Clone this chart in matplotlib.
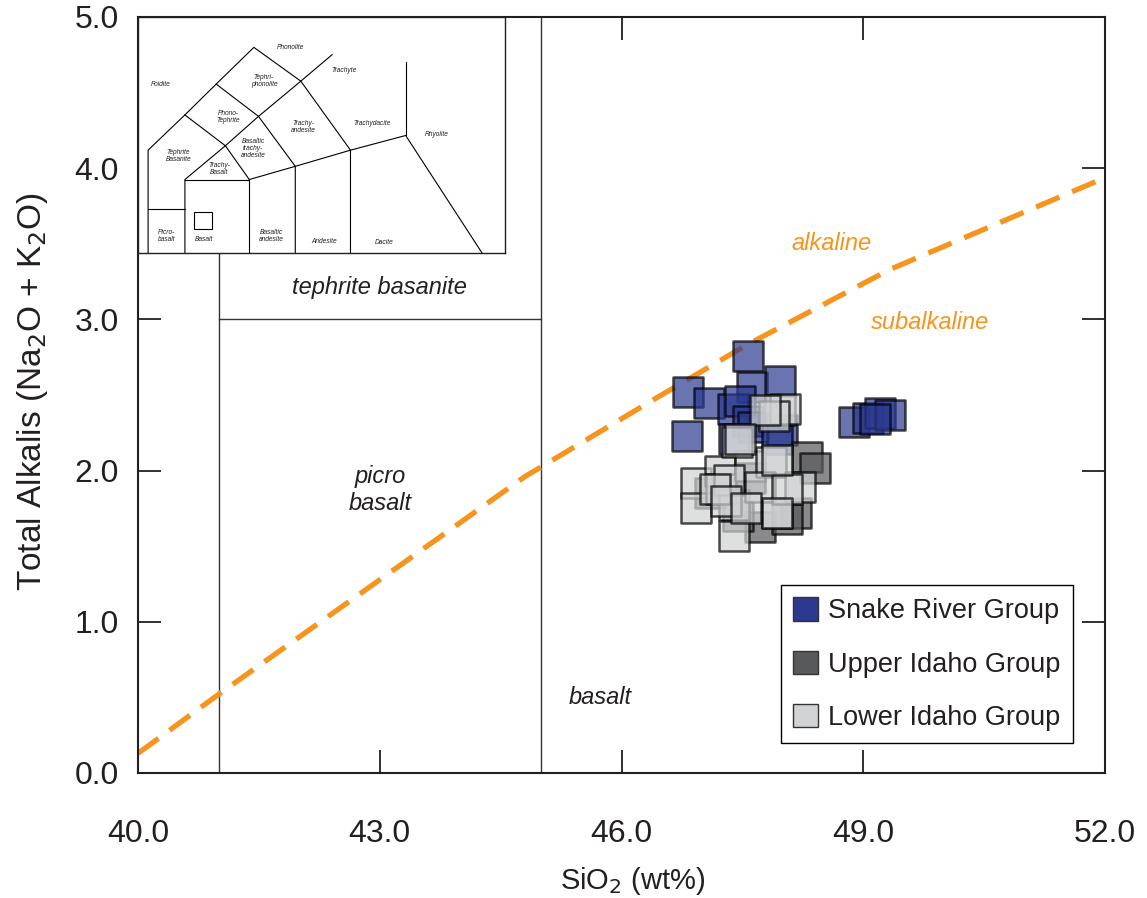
# TAS diagram (total alkali vs silica) with inset of the full classification

import matplotlib.pyplot as plt
from matplotlib.patches import Patch, Rectangle

plt.rcParams['font.family'] = ['Liberation Sans', 'DejaVu Sans']

# Sample compositions (SiO2 wt%, Na2O + K2O wt%)
snake_sio2 = [47.57, 46.82, 47.09, 47.62, 47.97, 46.81, 47.38, 47.47, 47.57, 47.63,
              47.39, 47.99, 47.93, 48.88, 49.06, 49.21, 49.33, 49.15]
snake_alk = [2.76, 2.52, 2.45, 2.55, 2.59, 2.23, 2.41, 2.46, 2.33, 2.29,
             2.21, 2.27, 2.21, 2.32, 2.35, 2.38, 2.37, 2.34]

upper_sio2 = [48.30, 48.40, 48.17, 47.72, 48.05, 47.45, 47.10, 47.60]
upper_alk = [2.09, 2.02, 1.72, 1.63, 1.68, 1.70, 1.85, 1.95]

lower_sio2 = [46.93, 46.93, 47.22, 47.24, 47.40, 47.39, 47.59, 47.86, 47.93, 47.43,
              47.33, 47.16, 47.72, 47.97, 48.03, 48.21, 48.05, 47.93, 47.89, 47.78,
              47.47, 47.93, 47.30, 47.55]
lower_alk = [1.92, 1.75, 2.00, 1.88, 1.77, 1.57, 2.03, 2.06, 1.72, 2.19,
             1.94, 1.88, 1.89, 2.40, 2.41, 1.89, 1.88, 2.07, 2.36, 2.40,
             2.21, 1.72, 1.80, 1.75]

# Alkaline / subalkaline boundary
bound_sio2 = [40.0, 41.0, 44.8, 46.4, 47.55, 49.33, 51.88, 52.0]
bound_alk = [0.13, 0.52, 1.96, 2.47, 2.83, 3.33, 3.91, 3.93]

xticks = [40.0, 43.0, 46.0, 49.0, 52.0]
yticks = [0.0, 1.0, 2.0, 3.0, 4.0, 5.0]

orange = '#f7941d'
ink = '#231f20'

fig = plt.figure(figsize=(11.47, 8.98), dpi=100)
ax = fig.add_axes([0.1203, 0.1392, 0.8431, 0.8419])
ax.set_xlim(40, 52)
ax.set_ylim(0, 5)

# field boundaries
ax.plot([41, 41], [0, 5], color='#333333', lw=1.0, zorder=1)
ax.plot([45, 45], [0, 5], color='#333333', lw=1.0, zorder=1)
ax.plot([41, 45], [3, 3], color='#333333', lw=1.0, zorder=1)

ax.plot(bound_sio2, bound_alk, color=orange, lw=3.8, dashes=(4.8, 2.6), zorder=2)

ax.text(43.0, 3.21, 'tephrite basanite', style='italic', fontsize=17,
        ha='center', va='center', color=ink)
ax.text(43.0, 1.87, 'picro\nbasalt', style='italic', fontsize=17,
        ha='center', va='center', color=ink, linespacing=1.2)
ax.text(45.73, 0.50, 'basalt', style='italic', fontsize=17,
        ha='center', va='center', color=ink)
ax.text(48.61, 3.50, 'alkaline', style='italic', fontsize=17,
        ha='center', va='center', color=orange)
ax.text(49.83, 2.98, 'subalkaline', style='italic', fontsize=17,
        ha='center', va='center', color=orange)

groups = [
    ('Snake River Group', snake_sio2, snake_alk, '#2b3990'),
    ('Upper Idaho Group', upper_sio2, upper_alk, '#58595b'),
    ('Lower Idaho Group', lower_sio2, lower_alk, '#d1d3d4'),
]
for name, xs, ys, col in groups:
    ax.scatter(xs, ys, s=480, marker='s', facecolor=col, edgecolor='black',
               linewidth=1.8, alpha=0.7, zorder=3)

handles = [Patch(facecolor=col, edgecolor='#333333', linewidth=1.0, label=name)
           for name, xs, ys, col in groups]
leg = ax.legend(handles=handles, loc='lower right', bbox_to_anchor=(0.9669, 0.0397),
                borderaxespad=0, fontsize=19.5, handlelength=0.93, handleheight=0.95,
                handletextpad=0.37, labelspacing=0.97, borderpad=0.45,
                fancybox=False, framealpha=1, edgecolor='black')
leg.get_frame().set_linewidth(1.0)
for t in leg.get_texts():
    t.set_color(ink)

ax.set_xticks(xticks)
ax.set_xticklabels(['%.1f' % v for v in xticks])
ax.set_yticks(yticks)
ax.set_yticklabels(['%.1f' % v for v in yticks])
ax.tick_params(direction='in', length=16.5, width=1.3, labelsize=23, colors=ink,
               top=True, right=True)
ax.tick_params(axis='x', pad=33)
ax.tick_params(axis='y', pad=14)
for s in ax.spines.values():
    s.set_linewidth(1.5)
    s.set_color(ink)

fig.text(33 / 1147, 1 - 392 / 898, 'Total Alkalis (Na$_2$O + K$_2$O)', rotation=90,
         fontsize=24, ha='center', va='center', color=ink)
fig.text(633 / 1147, 1 - 881 / 898, 'SiO$_2$ (wt%)', fontsize=21,
         ha='center', va='center', color=ink)

# inset: full TAS classification
ins = fig.add_axes([0.1203, 0.7183, 0.3200, 0.2628])
ins.set_xlim(39.9, 79.8)
ins.set_ylim(0, 16.07)
ins.set_xticks([])
ins.set_yticks([])
for s in ins.spines.values():
    s.set_linewidth(1.0)
    s.set_color(ink)

tas_lines = [
    ([41, 41, 45, 49.4, 45, 45], [0, 7, 9.4, 7.3, 5, 0]),
    ([41, 45], [3, 3]),
    ([45, 52, 52], [5, 5, 0]),
    ([52, 57, 57], [5, 5.9, 0]),
    ([57, 63, 63], [5.9, 7, 0]),
    ([63, 69, 77.3], [7, 8, 0]),
    ([69, 69], [8, 13.0]),
    ([45, 48.4, 52.5, 57.6, 61], [9.4, 11.5, 14, 11.7, 13.5]),
    ([49.4, 53, 57.6, 63], [7.3, 9.3, 11.7, 7]),
    ([48.4, 53, 57], [11.5, 9.3, 5.9]),
    ([49.4, 52], [7.3, 5]),
]
for xs, ys in tas_lines:
    ins.plot(xs, ys, color='black', lw=0.8)
ins.add_patch(Rectangle((46.0, 1.6), 1.9, 1.22, fill=False, edgecolor='black', lw=0.8))

tas_names = ['Foidite', 'Phonolite', 'Trachyte', 'Tephri-\nphonolite', 'Phono-\nTephrite',
             'Trachy-\nandesite', 'Trachydacite', 'Rhyolite', 'Tephrite\nBasanite',
             'Basaltic\ntrachy-\nandesite', 'Trachy-\nBasalt', 'Picro-\nbasalt', 'Basalt',
             'Basaltic\nandesite', 'Andesite', 'Dacite']
tas_x = [42.4, 56.5, 62.3, 53.6, 49.7, 57.9, 65.3, 72.4, 44.3, 52.4, 48.7, 43.0, 47.05,
         54.4, 60.1, 66.7]
tas_y = [11.5, 14.0, 12.4, 11.7, 9.25, 8.57, 8.84, 8.05, 6.57, 7.09, 5.73, 1.14, 0.95,
         1.18, 0.8, 0.73]
for name, x, y in zip(tas_names, tas_x, tas_y):
    ins.text(x, y, name, style='italic', fontsize=4.8, ha='center', va='center',
             color=ink, linespacing=1.0)

fig.savefig('out.png', dpi=100)
